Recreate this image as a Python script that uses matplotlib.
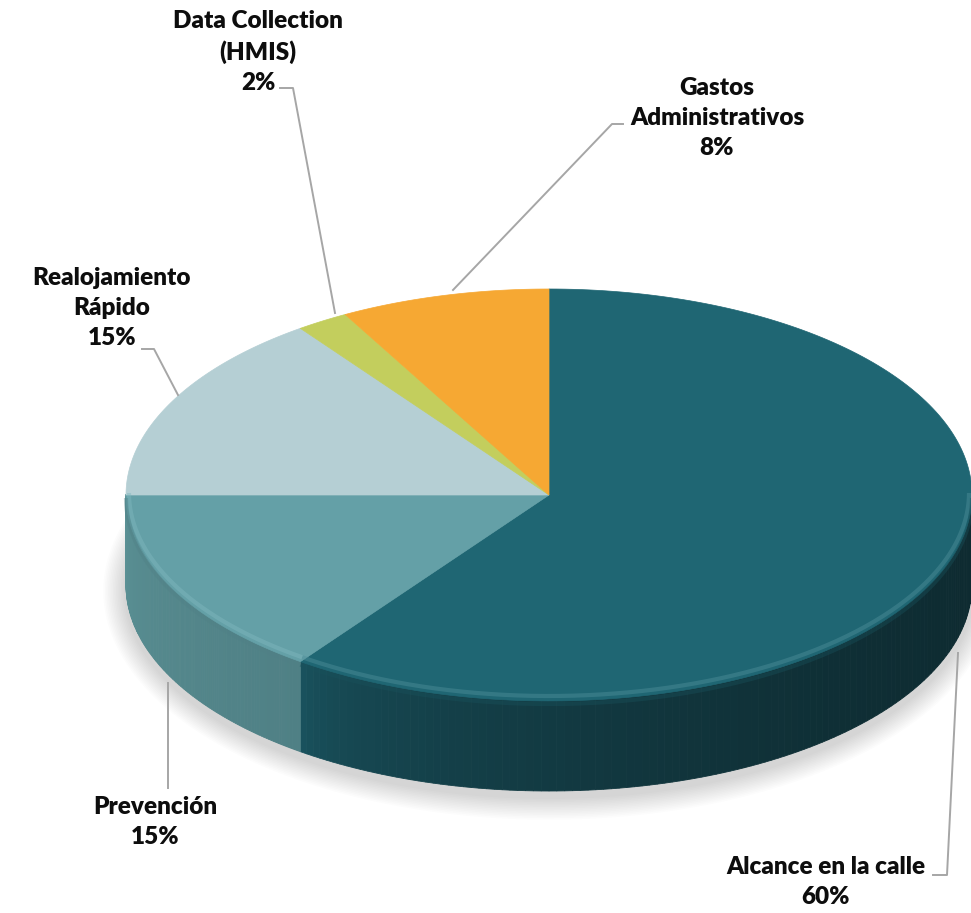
import numpy as np
import matplotlib
matplotlib.use("Agg")
import matplotlib.pyplot as plt
from matplotlib.patches import Polygon
from matplotlib.colors import to_rgb

# distribución del presupuesto
categorias = ['Alcance en la calle', 'Prevención', 'Realojamiento\nRápido',
              'Data Collection\n(HMIS)', 'Gastos\nAdministrativos']
porcentajes = [60, 15, 15, 2, 8]
colores_sup = ['#1F6673', '#64A0A7', '#B5CFD4', '#C3CE5D', '#F6A833']
colores_lat = [('#1A5561', '#0E2B31'), ('#5A9094', '#4F8085'),
               ('#9DB8BD', '#9DB8BD'), ('#AAB44E', '#AAB44E'),
               ('#D9922A', '#D9922A')]

# geometría de la tarta (en píxeles)
cx, cy = 549, 495
rx, ry = 423, 206
prof = 90

fig = plt.figure(figsize=(9.71, 9.13), dpi=100)
ax = fig.add_axes([0, 0, 1, 1])
ax.set_xlim(0, 971)
ax.set_ylim(913, 0)
ax.axis('off')


def borde(t, dy=0, r_x=rx, r_y=ry):
    t = np.radians(t)
    return cx + r_x * np.cos(t), cy - r_y * np.sin(t) + dy


def mezcla(c1, c2, f):
    a, b = np.array(to_rgb(c1)), np.array(to_rgb(c2))
    f = min(max(f, 0), 1)
    return tuple(a + (b - a) * f)


# ángulos de cada porción, empezando arriba y en sentido horario
limites = 90 - 3.6 * np.concatenate([[0], np.cumsum(porcentajes)])
tramos = list(zip(limites[:-1], limites[1:]))

# sombra difusa bajo la tarta
ts = np.linspace(0, 360, 240)
for k in range(14):
    xs, ys = borde(ts, dy=prof + 6, r_x=rx + 2 + k * 1.6, r_y=ry + 2 + k * 1.6)
    ax.add_patch(Polygon(np.column_stack([xs, ys]), closed=True,
                         facecolor='black', edgecolor='none', alpha=0.012, zorder=1))

# pared lateral visible (mitad delantera), más oscura hacia la derecha
for (a1, a2), (c1, c2) in zip(tramos, colores_lat):
    lo, hi = max(a2, -180), min(a1, 0)
    if lo >= hi:
        continue
    t = np.linspace(hi, lo, 120)
    xa, _ = borde(lo)
    xb, _ = borde(hi)
    for i in range(len(t) - 1):
        x1, y1 = borde(t[i])
        x2, y2 = borde(t[i + 1])
        f = ((x1 + x2) / 2 - xa) / (xb - xa)
        if c1 != c2:
            f = f ** 0.45
        col = mezcla(c1, c2, f)
        quad = [(x1, y1 - 1), (x2, y2 - 1), (x2, y2 + prof), (x1, y1 + prof)]
        ax.add_patch(Polygon(quad, closed=True, facecolor=col, edgecolor=col,
                             linewidth=0.6, zorder=2))

# caras superiores
for (a1, a2), col in zip(tramos, colores_sup):
    t = np.linspace(a1, a2, 200)
    xs, ys = borde(t)
    pts = np.column_stack([np.r_[cx, xs], np.r_[cy, ys]])
    ax.add_patch(Polygon(pts, closed=True, facecolor=col, edgecolor=col,
                         linewidth=0.5, zorder=3))

# brillo del canto redondeado
for (a1, a2), col in zip(tramos, colores_sup):
    lo, hi = max(a2, -180), min(a1, 0)
    if lo >= hi:
        continue
    t = np.linspace(hi, lo, 200)
    luz = mezcla(col, '#BFF0F5', 0.3)
    xs, ys = borde(t, dy=-2, r_x=rx - 3, r_y=ry - 3)
    ax.plot(xs, ys, color=luz, lw=3, alpha=0.45, solid_capstyle='butt', zorder=4)
    xs, ys = borde(t, dy=3)
    ax.plot(xs, ys, color=mezcla(col, 'black', 0.2), lw=3, alpha=0.4,
            solid_capstyle='butt', zorder=4)

# líneas guía de las etiquetas
guias = [
    [(958, 653), (947, 875), (933, 875)],
    [(168, 683), (168, 788)],
    [(178, 395), (154, 349), (142, 349)],
    [(335, 313), (293, 88), (280, 88)],
    [(453, 290), (612, 124), (623, 124)],
]
for g in guias:
    gx, gy = zip(*g)
    ax.plot(gx, gy, color='#A6A6A6', lw=1.4, zorder=5)

# etiquetas
pos_texto = [(826, 882), (155, 822), (112, 308), (258, 52), (717, 118)]
for nombre, pct, (tx, ty) in zip(categorias, porcentajes, pos_texto):
    ax.text(tx, ty, f'{nombre}\n{pct}%', ha='center', va='center',
            fontsize=17.5, fontweight='heavy', family='Lato', color='#0D0D0D',
            linespacing=1.45, zorder=6)

fig.savefig('out.png', dpi=100)
